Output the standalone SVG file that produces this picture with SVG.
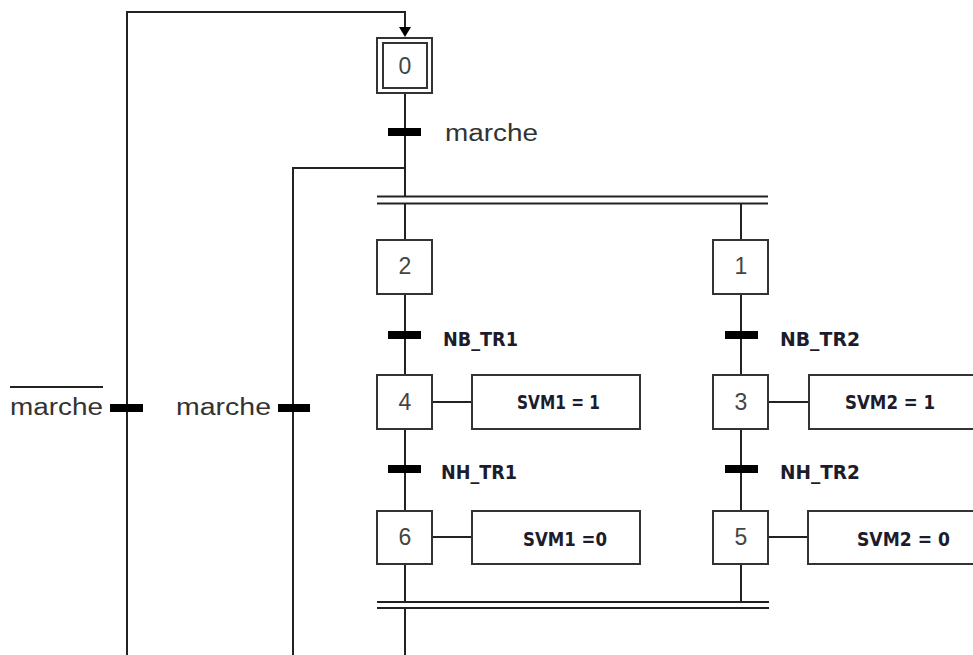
<svg xmlns="http://www.w3.org/2000/svg" width="973" height="655" viewBox="0 0 973 655">
<defs>
<style>
.ln{stroke:#222;stroke-width:2;fill:none}
.box{fill:#fff;stroke:#333;stroke-width:2}
.bar{fill:#000}
.num{font-family:"Liberation Sans",Arial,sans-serif;font-size:23px;fill:#444;text-anchor:middle}
.lbl{font-family:"Liberation Sans",Arial,sans-serif;font-size:23px;fill:#333}
.cond{font-family:"DejaVu Sans Condensed","DejaVu Sans",sans-serif;font-weight:bold;font-size:20px;fill:#1c1c2c}
</style>
</defs>
<rect width="973" height="655" fill="#fff"/>

<g id="connectors">
<path class="ln" d="M127,655 V12 H405 V30"/>
<path d="M399,27 L411,27 L405,37 Z" fill="#000"/>
<path class="ln" d="M293,655 V168 H405"/>
<path class="ln" d="M405,93 V196.5"/>
<path class="ln" d="M377,196.5 H768 M377,203.5 H768"/>
<path class="ln" d="M405,203.5 V240 M741,203.5 V240"/>
<path class="ln" d="M405,294 V375 M741,294 V375"/>
<path class="ln" d="M405,429 V511 M741,429 V511"/>
<path class="ln" d="M405,564 V602 M741,564 V602"/>
<path class="ln" d="M377,602 H769 M377,608 H769"/>
<path class="ln" d="M405,608 V655"/>
<path class="ln" d="M432,402 H472 M768,402 H809 M432,537 H472 M768,537 H808"/>
</g>

<g id="step0">
<rect class="box" x="377" y="38" width="55" height="55"/>
<rect class="box" x="383" y="43" width="44" height="45"/>
<text class="num" x="405" y="74">0</text>
</g>
<g id="t_marche">
<rect class="bar" x="388" y="128" width="33" height="8"/>
<text class="lbl" x="445" y="141" textLength="93" lengthAdjust="spacingAndGlyphs">marche</text>
</g>

<g id="step2">
<rect class="box" x="377" y="240" width="55" height="54"/>
<text class="num" x="405" y="274">2</text>
</g>
<g id="step1">
<rect class="box" x="713" y="240" width="55" height="54"/>
<text class="num" x="741" y="274">1</text>
</g>

<g id="t_nb_tr1">
<rect class="bar" x="388" y="331" width="33" height="8"/>
<text class="cond" x="443" y="346" textLength="75" lengthAdjust="spacingAndGlyphs">NB_TR1</text>
</g>
<g id="t_nb_tr2">
<rect class="bar" x="725" y="331" width="33" height="8"/>
<text class="cond" x="780" y="346" textLength="80" lengthAdjust="spacingAndGlyphs">NB_TR2</text>
</g>

<g id="step4">
<rect class="box" x="377" y="375" width="55" height="54"/>
<text class="num" x="405" y="410">4</text>
</g>
<g id="action4">
<rect class="box" x="472" y="375" width="168" height="54"/>
<text class="cond" x="517" y="409" textLength="83" lengthAdjust="spacingAndGlyphs">SVM1 = 1</text>
</g>
<g id="step3">
<rect class="box" x="713" y="375" width="55" height="54"/>
<text class="num" x="741" y="410">3</text>
</g>
<g id="action3">
<rect class="box" x="809" y="375" width="180" height="54"/>
<text class="cond" x="845" y="409" textLength="90" lengthAdjust="spacingAndGlyphs">SVM2 = 1</text>
</g>

<g id="t_nh_tr1">
<rect class="bar" x="388" y="465" width="33" height="8"/>
<text class="cond" x="441" y="479" textLength="76" lengthAdjust="spacingAndGlyphs">NH_TR1</text>
</g>
<g id="t_nh_tr2">
<rect class="bar" x="725" y="465" width="33" height="8"/>
<text class="cond" x="780" y="479" textLength="80" lengthAdjust="spacingAndGlyphs">NH_TR2</text>
</g>

<g id="step6">
<rect class="box" x="377" y="511" width="55" height="53"/>
<text class="num" x="405" y="545">6</text>
</g>
<g id="action6">
<rect class="box" x="472" y="511" width="168" height="53"/>
<text class="cond" x="523" y="546" textLength="84" lengthAdjust="spacingAndGlyphs">SVM1 =0</text>
</g>
<g id="step5">
<rect class="box" x="713" y="511" width="55" height="53"/>
<text class="num" x="741" y="545">5</text>
</g>
<g id="action5">
<rect class="box" x="808" y="511" width="180" height="53"/>
<text class="cond" x="857" y="546" textLength="93" lengthAdjust="spacingAndGlyphs">SVM2 = 0</text>
</g>

<g id="t_not_marche">
<rect class="bar" x="110" y="404" width="33" height="8"/>
<line class="ln" x1="10" y1="387" x2="103" y2="387"/>
<text class="lbl" x="10" y="415" textLength="93" lengthAdjust="spacingAndGlyphs">marche</text>
</g>
<g id="t_marche2">
<rect class="bar" x="278" y="404" width="32" height="8"/>
<text class="lbl" x="176" y="415" textLength="95" lengthAdjust="spacingAndGlyphs">marche</text>
</g>
</svg>
